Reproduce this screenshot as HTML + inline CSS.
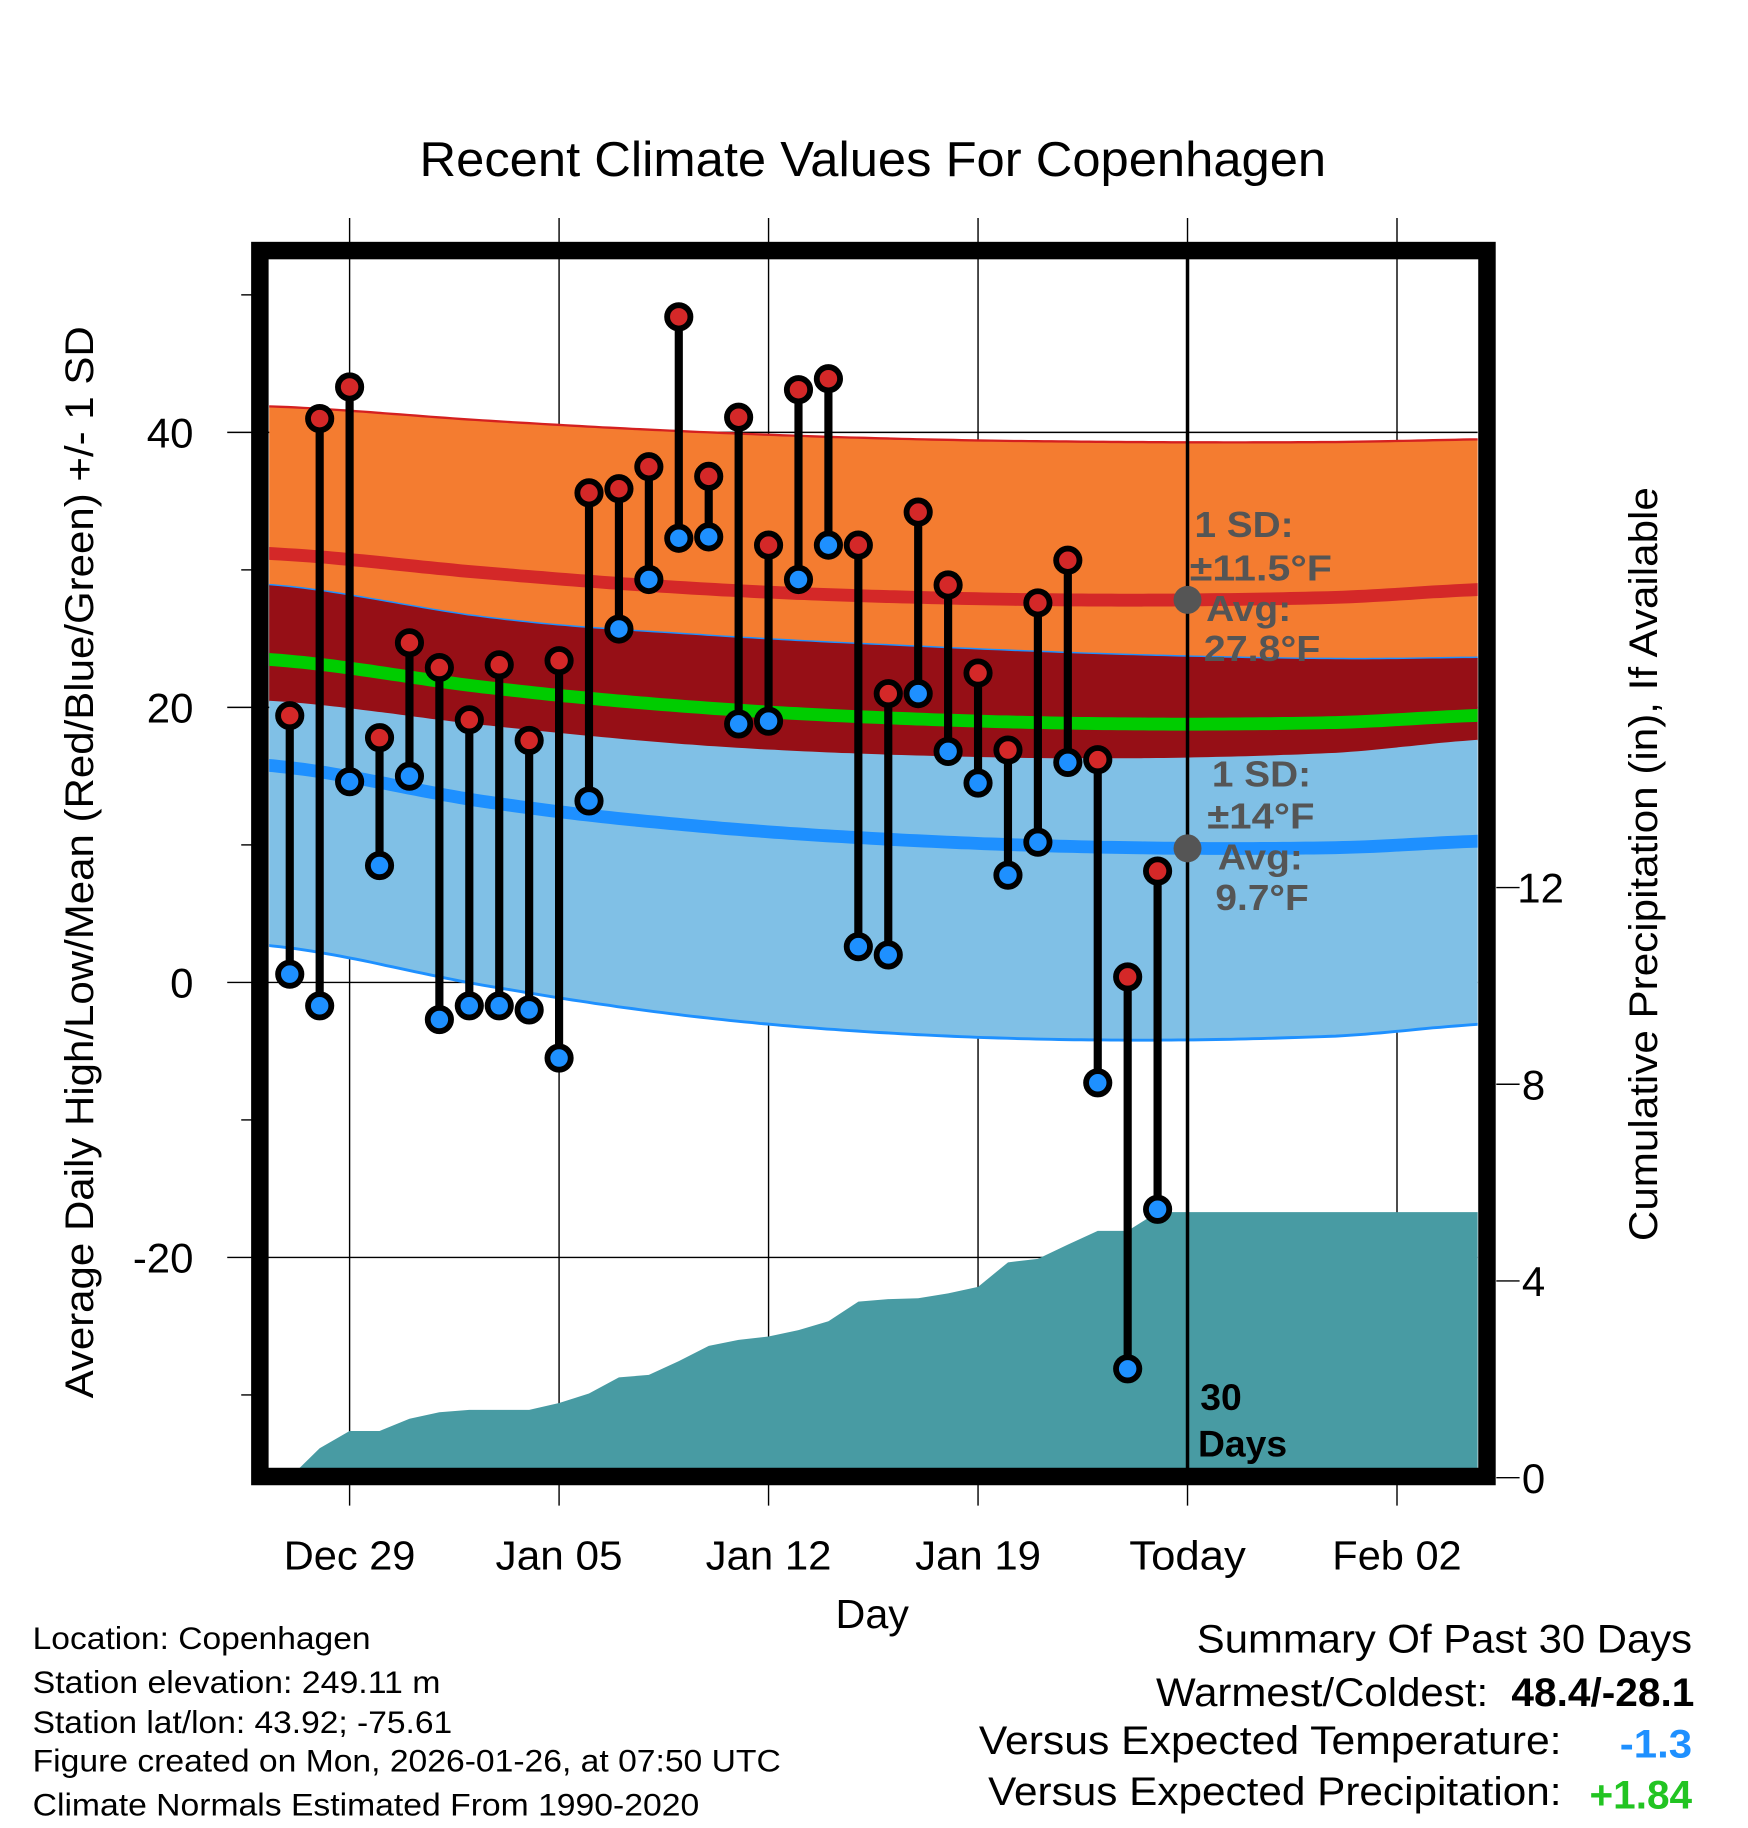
<!DOCTYPE html>
<html><head><meta charset="utf-8"><style>
html,body{margin:0;padding:0;background:#fff}
svg{display:block;font-family:"Liberation Sans",sans-serif}
</style></head><body>
<svg id="chart" width="1748" height="1828" viewBox="0 0 1500 1568.6" xmlns="http://www.w3.org/2000/svg">
<text x="360" y="151" font-size="42" textLength="778" lengthAdjust="spacingAndGlyphs">Recent Climate Values For Copenhagen</text>
<defs><clipPath id="plotclip"><rect x="231" y="222" width="1037" height="1038"/></clipPath></defs>
<g id="grid"></g>
<g id="bands" clip-path="url(#plotclip)"></g>
<g id="precip" clip-path="url(#plotclip)"></g>
<g id="annot"></g>
<g id="marks"></g>
<rect x="223" y="215" width="1053" height="1052" fill="none" stroke="#000" stroke-width="15"/>
<g id="axes"></g>
<text x="717" y="1397" font-size="35" textLength="63" lengthAdjust="spacingAndGlyphs">Day</text>
<text transform="translate(80,1200) rotate(-90)" font-size="34" textLength="920" lengthAdjust="spacingAndGlyphs">Average Daily High/Low/Mean (Red/Blue/Green) +/- 1 SD</text>
<text transform="translate(1422,1065) rotate(-90)" font-size="34" textLength="647" lengthAdjust="spacingAndGlyphs">Cumulative Precipitation (in), If Available</text>
<g font-size="27">
<text x="28" y="1415" textLength="290" lengthAdjust="spacingAndGlyphs">Location: Copenhagen</text>
<text x="28" y="1453" textLength="350" lengthAdjust="spacingAndGlyphs">Station elevation: 249.11 m</text>
<text x="28" y="1487" textLength="360" lengthAdjust="spacingAndGlyphs">Station lat/lon: 43.92; -75.61</text>
<text x="28" y="1520" textLength="642" lengthAdjust="spacingAndGlyphs">Figure created on Mon, 2026-01-26, at 07:50 UTC</text>
<text x="28" y="1558" textLength="572" lengthAdjust="spacingAndGlyphs">Climate Normals Estimated From 1990-2020</text>
</g>
<g font-size="34">
<text x="1027" y="1418" textLength="425" lengthAdjust="spacingAndGlyphs">Summary Of Past 30 Days</text>
<text x="992" y="1464" textLength="285" lengthAdjust="spacingAndGlyphs">Warmest/Coldest:</text>
<text x="1297" y="1464" font-weight="bold" textLength="157" lengthAdjust="spacingAndGlyphs">48.4/-28.1</text>
<text x="840" y="1505" textLength="500" lengthAdjust="spacingAndGlyphs">Versus Expected Temperature:</text>
<text x="1390" y="1508" font-weight="bold" fill="#1e90ff" textLength="62" lengthAdjust="spacingAndGlyphs">-1.3</text>
<text x="848" y="1549" textLength="492" lengthAdjust="spacingAndGlyphs">Versus Expected Precipitation:</text>
<text x="1364" y="1552" font-weight="bold" fill="#22c422" textLength="88" lengthAdjust="spacingAndGlyphs">+1.84</text>
</g>
</svg>
<script>
const dayLabels = ["Dec 29","Jan 05","Jan 12","Jan 19","Today","Feb 02"];
const dayTicks = [0,7,14,21,28,35];
const yTicks = [40,20,0,-20];
const yMinor = [50,30,10,-10,-30];
const pTicks = [0,4,8,12];
const obsDays = [-2,-1,0,1,2,3,4,5,6,7,8,9,10,11,12,13,14,15,16,17,18,19,20,21,22,23,24,25,26,27];
const highs = [19.4,41.0,43.3,17.8,24.7,22.9,19.1,23.1,17.6,23.4,35.6,35.9,37.5,48.4,36.8,41.1,31.8,43.1,43.9,31.8,21.0,34.2,28.9,22.5,16.9,27.6,30.7,16.2,0.4,8.1];
const lows = [0.6,-1.7,14.6,8.5,15.0,-2.7,-1.7,-1.7,-2.0,-5.5,13.2,25.7,29.3,32.3,32.4,18.8,19.0,29.3,31.8,2.6,2.0,21.0,16.8,14.5,7.8,10.2,16.0,-7.3,-28.1,-16.5];
const precip = [0.0,0.6,0.95,0.95,1.2,1.33,1.38,1.38,1.38,1.52,1.71,2.04,2.09,2.37,2.68,2.80,2.87,3.0,3.18,3.58,3.63,3.65,3.75,3.88,4.38,4.45,4.74,5.02,5.02,5.40];
const normDays = [-2.8,5,12,19,26,33,38.2];
const hiAvg = [31.2,29.7,28.6,28.0,27.8,28.0,28.6];
const hiSd = [10.7,11.1,11.4,11.5,11.5,11.3,10.9];
const loAvg = [15.8,13.0,11.3,10.3,9.8,9.8,10.3];
const loSd = [13.1,13.4,13.9,14.1,14.0,13.7,13.3];
const tickLens = [113,109,108,108,100,111];

const NS="http://www.w3.org/2000/svg";
const X = d => 300 + d*25.68;
const Y = t => 843 - t*11.8;
const P = v => 1268 - v*42.2;
function mk(tag, attrs, parent){const e=document.createElementNS(NS,tag);for(const k in attrs)e.setAttribute(k,attrs[k]);parent.appendChild(e);return e;}
function interp(arr, d){
  for(let i=0;i<normDays.length-1;i++){
    if(d<=normDays[i+1]||i==normDays.length-2){
      const t=(d-normDays[i])/(normDays[i+1]-normDays[i]);
      const p0=arr[Math.max(i-1,0)],p1=arr[i],p2=arr[i+1],p3=arr[Math.min(i+2,arr.length-1)];
      const t2=t*t,t3=t2*t;
      return 0.5*((2*p1)+(-p0+p2)*t+(2*p0-5*p1+4*p2-p3)*t2+(-p0+3*p1-3*p2+p3)*t3);
    }
  }
}
const samp=[];for(let d=normDays[0];d<=normDays[normDays.length-1]+0.001;d+=0.25)samp.push(d);
const f=(fn)=>samp.map(d=>X(d).toFixed(1)+","+Y(fn(d)).toFixed(1));
const bandPts=(top,bot)=>f(top).concat(f(bot).reverse()).join(" ");
const hA=d=>interp(hiAvg,d), hS=d=>interp(hiSd,d), lA=d=>interp(loAvg,d), lS=d=>interp(loSd,d);

const grid=document.getElementById('grid');
dayTicks.forEach((d,i)=>{
  const l=mk('line',{x1:X(d),x2:X(d),y1:187,y2:1292,stroke:'#000','stroke-width':1.2},grid);
  
  
});
yTicks.forEach(t=>{
  const l=mk('line',{x1:195,x2:1268,y1:Y(t),y2:Y(t),stroke:'#000','stroke-width':1.2},grid);
  
  
});

const bands=document.getElementById('bands');
const ob=mk('polygon',{points:bandPts(d=>hA(d)+hS(d),d=>hA(d)-hS(d)),fill:'#f47c30',stroke:'#d42020','stroke-width':2},bands);


const lb=mk('polygon',{points:bandPts(d=>lA(d)+lS(d),d=>lA(d)-lS(d)),fill:'#80c0e6',stroke:'#1e90ff','stroke-width':2.5},bands);


const ov=mk('polygon',{points:bandPts(d=>lA(d)+lS(d),d=>hA(d)-hS(d)),fill:'#960f16'},bands);


[[hA,'#d42828','high-avg-line'],[lA,'#1e90ff','low-avg-line'],[d=>(hA(d)+lA(d))/2,'#00cc00','mean-line']].forEach(([fn,c,n])=>{
  const l=mk('polyline',{points:f(fn).join(" "),fill:'none',stroke:c,'stroke-width':11},bands);
  
  
});

const pg=document.getElementById('precip');
let pts=obsDays.map((d,i)=>X(d).toFixed(1)+","+P(precip[i]).toFixed(1));
pts.push(X(38.5)+","+P(precip[precip.length-1]));
pts.push(X(38.5)+","+P(0)); pts.push(X(obsDays[0])+","+P(0));
const pa=mk('polygon',{points:pts.join(" "),fill:'#489ba3'},pg);



const an=document.getElementById('annot');
const tl=mk('line',{x1:X(28),x2:X(28),y1:222,y2:1260,stroke:'#000','stroke-width':3},an);


[[hA(28),'high-normal-dot'],[lA(28),'low-normal-dot']].forEach(([v,n])=>{
  const c=mk('circle',{cx:X(28),cy:Y(v),r:12,fill:'#555'},an);
  
  
});
const annTexts=[["1 SD:",1025,461,85],["±11.5°F",1021,498,122],["Avg:",1035,533,73],["27.8°F",1033,567,100],["1 SD:",1040,675,85],["±14°F",1036,711,92],["Avg:",1045,746,73],["9.7°F",1043,781,80]];
annTexts.forEach(([s,x,y,w])=>{
  const t=mk('text',{x:x,y:y,'font-size':31,'font-weight':'bold',fill:'#555',textLength:w,lengthAdjust:'spacingAndGlyphs'},an);
  t.textContent=s;
  
  
});
[["30",1030,1210],["Days",1028,1250]].forEach(([s,x,y])=>{
  const t=mk('text',{x:x,y:y,'font-size':32,'font-weight':'bold',fill:'#000'},an);
  t.textContent=s;
  
  
});

const mg=document.getElementById('marks');
obsDays.forEach((d,i)=>{
  const l=mk('line',{x1:X(d),x2:X(d),y1:Y(highs[i]),y2:Y(lows[i]),stroke:'#000','stroke-width':7},mg);
  
  
});
obsDays.forEach((d,i)=>{
  const h=mk('circle',{cx:X(d),cy:Y(highs[i]),r:10,fill:'#d42828',stroke:'#000','stroke-width':5},mg);
  
  
  const lo=mk('circle',{cx:X(d),cy:Y(lows[i]),r:10,fill:'#1e90ff',stroke:'#000','stroke-width':5},mg);
  
  
});

const ax=document.getElementById('axes');
dayTicks.forEach((d,i)=>{
  const t=mk('text',{x:X(d)-tickLens[i]/2,y:1347,'font-size':35,textLength:tickLens[i],lengthAdjust:'spacingAndGlyphs'},ax);
  t.textContent=dayLabels[i];
  
  
});
yTicks.forEach(v=>{
  const t=mk('text',{x:166,y:Y(v)+13,'font-size':36,'text-anchor':'end'},ax);
  t.textContent=v;
  
  
});
yMinor.forEach(v=>{
  const l=mk('line',{x1:207,x2:216,y1:Y(v),y2:Y(v),stroke:'#000','stroke-width':1.2},ax);
  
  
});
pTicks.forEach(v=>{
  const l=mk('line',{x1:1284,x2:1304,y1:P(v),y2:P(v),stroke:'#000','stroke-width':1.2},ax);
  
  
  const t=mk('text',{x:v>=10?1302:1306,y:P(v)+13,'font-size':36},ax);
  t.textContent=v;
  
  
});
</script>
</body></html>
